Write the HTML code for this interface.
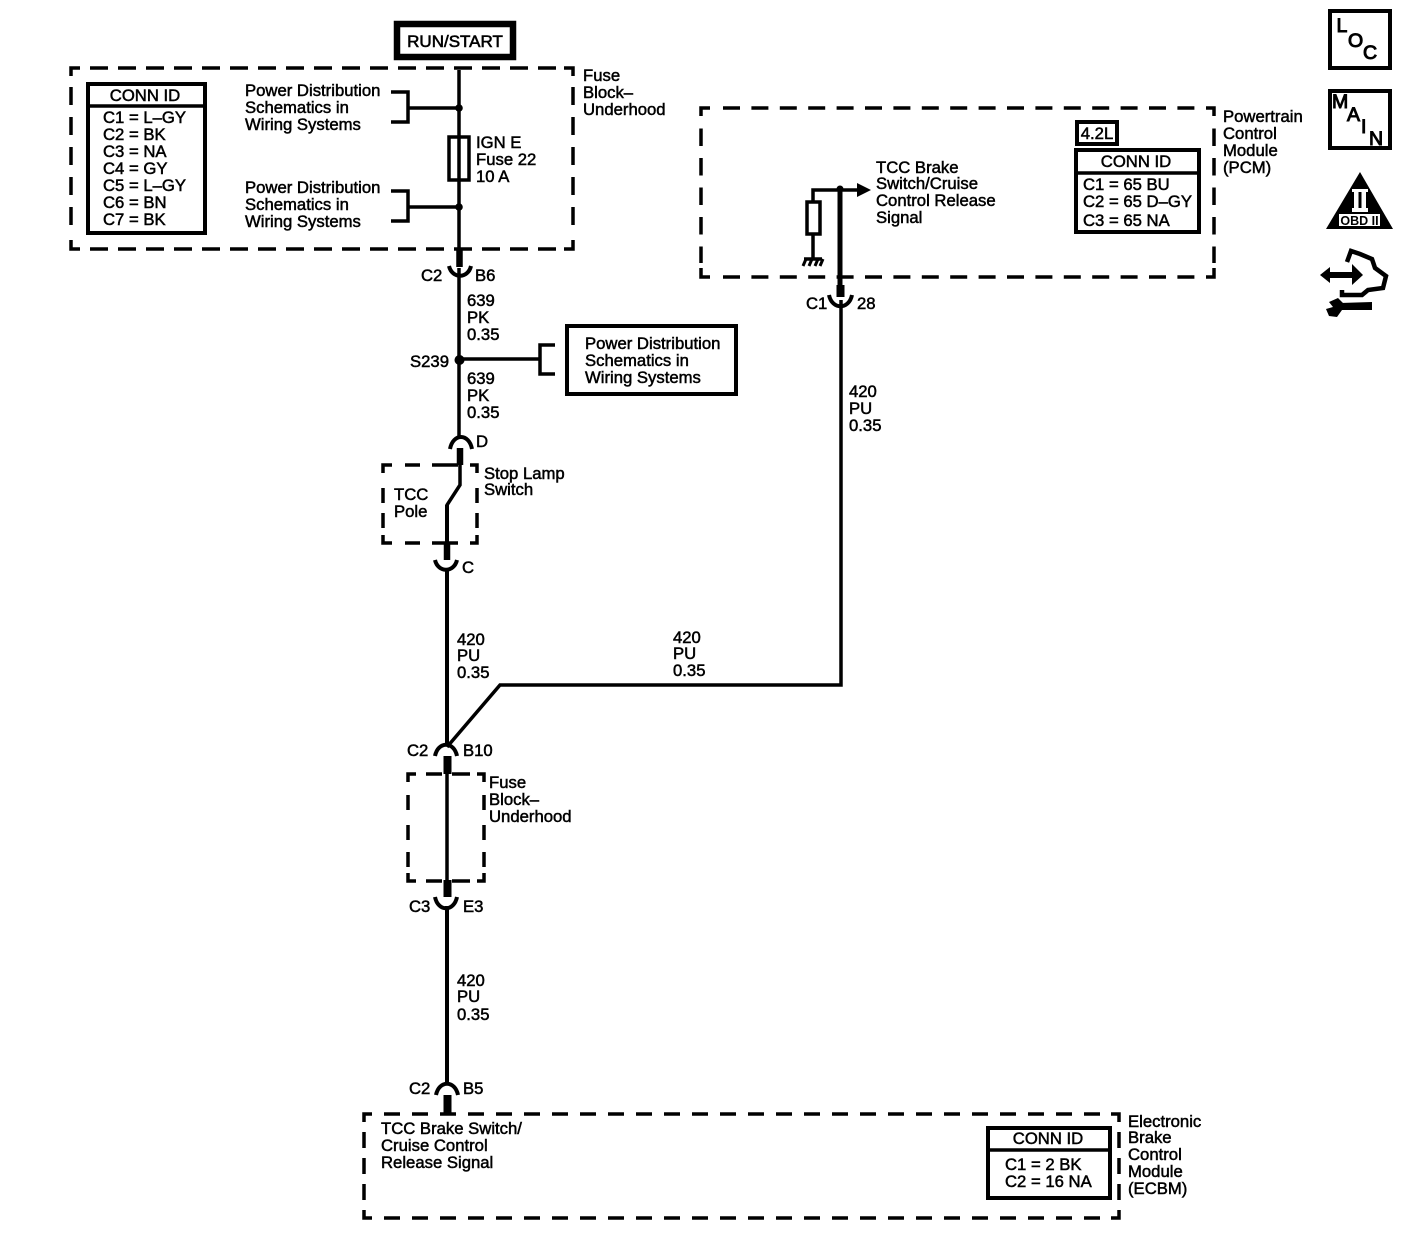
<!DOCTYPE html>
<html><head><meta charset="utf-8"><style>
html,body{margin:0;padding:0;background:#fff}
svg{display:block}
text{font-family:"Liberation Sans",sans-serif;font-size:16.7px;fill:#000;stroke:#000;stroke-width:.5}
.w{fill:none;stroke:#000;stroke-width:3.5}
.b{fill:none;stroke:#000;stroke-width:4}
.c{fill:none;stroke:#000;stroke-width:3.5}
.t{fill:none;stroke:#000;stroke-width:6.5}
.a{fill:none;stroke:#000;stroke-width:4}
.i text,text.i{font-size:19.5px;stroke-width:1}
</style></head><body>
<svg width="1408" height="1240" viewBox="0 0 1408 1240" xmlns="http://www.w3.org/2000/svg">
<!-- dashed boxes: corners + dashed runs -->
<path class="c" d="M80 68H71V76M564 68H573V76M80 249H71V240M564 249H573V240"/>
<path class="c" stroke-dasharray="18 10" d="M90 68H556M90 249H556"/>
<path class="c" stroke-dasharray="18 12" d="M71 87V228M573 87V228"/>

<path class="c" d="M710 108H701V116M1206 108H1214V116M710 277H701V268M1206 277H1214V268"/>
<path class="c" stroke-dasharray="17 11.400" d="M723 108H1196M723 277H1196"/>
<path class="c" stroke-dasharray="17.500 12" d="M701 128.500V263M1214 128.500V263"/>

<path class="c" d="M392 465H383V473M470 465H477V473M392 543H383V535M470 543H477V535"/>
<path class="c" d="M405 465H420M432 465H458M405 543H420M432 543H458"/>
<path class="c" d="M383 488V503M383 513V528M477 488V503M477 513V528"/>

<path class="c" d="M416 774H408V782M477 774H484V782M416 881H408V873M477 881H484V873"/>
<path class="c" d="M426 774H442M452 774H470M426 881H442M452 881H470"/>
<path class="c" d="M408 795V810M408 825V840M408 852V867M484 795V810M484 825V840M484 852V867"/>

<path class="c" d="M372 1114H364V1122M1111 1114H1119V1122M372 1218H364V1210M1111 1218H1119V1210"/>
<path class="c" stroke-dasharray="16 12" d="M384 1114H1102M384 1218H1102"/>
<path class="c" stroke-dasharray="16 10" d="M364 1132V1201M1119 1132V1201"/>

<!-- RUN/START -->
<rect x="397" y="24" width="116" height="33" fill="#fff" stroke="#000" stroke-width="6.500"/>
<text x="455" y="47" text-anchor="middle" style="font-size:17px;stroke-width:.6">RUN/START</text>

<!-- CONN ID boxes -->
<rect class="b" x="88" y="84" width="117" height="149"/>
<path class="w" d="M88 106H205"/>
<text x="145" y="101" text-anchor="middle">CONN ID</text>
<text x="103" y="123">C1 = L–GY</text>
<text x="103" y="140">C2 = BK</text>
<text x="103" y="157">C3 = NA</text>
<text x="103" y="174">C4 = GY</text>
<text x="103" y="191">C5 = L–GY</text>
<text x="103" y="208">C6 = BN</text>
<text x="103" y="225">C7 = BK</text>

<rect class="b" x="1077" y="122" width="40" height="22"/>
<text x="1097" y="139" text-anchor="middle">4.2L</text>
<rect class="b" x="1076" y="150" width="123" height="82"/>
<path class="w" d="M1076 173H1199"/>
<text x="1136" y="167" text-anchor="middle">CONN ID</text>
<text x="1083" y="190">C1 = 65 BU</text>
<text x="1083" y="207">C2 = 65 D–GY</text>
<text x="1083" y="226">C3 = 65 NA</text>

<rect class="b" x="988" y="1128" width="122" height="70"/>
<path class="w" d="M988 1150H1110"/>
<text x="1048" y="1144" text-anchor="middle">CONN ID</text>
<text x="1005" y="1170">C1 = 2 BK</text>
<text x="1005" y="1187">C2 = 16 NA</text>

<!-- top wire, fuse, brackets -->
<path class="w" d="M459 70V250M459 268V358M459 360V436"/>
<rect x="449" y="137" width="20" height="43" fill="none" stroke="#000" stroke-width="3.500"/>
<circle cx="459" cy="108" r="3.800"/><circle cx="459" cy="207" r="3.800"/>
<path class="w" d="M391 92H408V122H391M408 108H459"/>
<path class="w" d="M391 191H408V221H391M408 207H459"/>
<path class="t" d="M459.500 248V267"/>
<path class="a" d="M449 266C452 279 468 279 471 266"/>
<circle cx="459.500" cy="360" r="5"/>
<path class="w" d="M459 359H539M555 345H540V374H555"/>
<rect class="b" x="567" y="326" width="169" height="68"/>

<!-- D connector and switch -->
<path class="a" d="M450 449C453 433 469 433 472 449"/>
<path class="t" d="M460 448V465"/>
<path class="w" d="M460 465V485L447 505V545"/>
<path d="M447 505V545" fill="none" stroke="#000" stroke-width="4"/>
<path class="t" d="M447 542V560"/>
<path class="a" d="M435 560C438 573 454 573 457 560"/>
<path d="M447 568V745" fill="none" stroke="#000" stroke-width="4"/>

<!-- diagonal and PCM wire -->
<path class="w" d="M447 747L500 685H841V300"/>
<path d="M840 190V290" fill="none" stroke="#000" stroke-width="5"/>
<path class="a" d="M435 756C438 741 454 741 457 756"/>
<path d="M447.500 756V774" fill="none" stroke="#000" stroke-width="8"/>
<path d="M447 774V882" fill="none" stroke="#000" stroke-width="3.500"/>
<path d="M447.500 880V897" fill="none" stroke="#000" stroke-width="8"/>
<path class="a" d="M435 897C438 912 454 912 457 897"/>
<path d="M447 906V1085" fill="none" stroke="#000" stroke-width="4"/>
<path class="a" d="M436 1095C439 1080 455 1080 458 1095"/>
<path d="M447.500 1095V1114" fill="none" stroke="#000" stroke-width="8"/>

<!-- PCM internals -->
<path class="w" d="M813 202V190H860"/>
<path d="M857 183L871 190L857 197Z"/>
<circle cx="840" cy="189" r="3.500"/>
<rect class="w" x="807" y="202" width="13" height="32"/>
<path class="w" d="M813 234V258M804 259H822"/>
<path d="M806 259L803 266M812 259L809 266M818 259L815 266M823 259L820 266" stroke="#000" stroke-width="3" fill="none"/>
<path d="M840.500 285V297" fill="none" stroke="#000" stroke-width="8"/>
<path class="a" d="M829 295C832 310 849 310 852 295"/>

<!-- Labels -->
<text x="583" y="81">Fuse</text><text x="583" y="98">Block–</text><text x="583" y="115">Underhood</text>
<text x="245" y="96">Power Distribution</text><text x="245" y="113">Schematics in</text><text x="245" y="130">Wiring Systems</text>
<text x="245" y="193">Power Distribution</text><text x="245" y="210">Schematics in</text><text x="245" y="227">Wiring Systems</text>
<text x="476" y="148">IGN E</text><text x="476" y="165">Fuse 22</text><text x="476" y="182">10 A</text>
<text x="421" y="281">C2</text><text x="475" y="281">B6</text>
<text x="467" y="306">639</text><text x="467" y="323">PK</text><text x="467" y="340">0.35</text>
<text x="410" y="367">S239</text>
<text x="467" y="384">639</text><text x="467" y="401">PK</text><text x="467" y="418">0.35</text>
<text x="585" y="349">Power Distribution</text><text x="585" y="366">Schematics in</text><text x="585" y="383">Wiring Systems</text>
<text x="476" y="447">D</text>
<text x="484" y="479">Stop Lamp</text><text x="484" y="495">Switch</text>
<text x="394" y="500">TCC</text><text x="394" y="517">Pole</text>
<text x="462" y="573">C</text>
<text x="457" y="645">420</text><text x="457" y="661">PU</text><text x="457" y="678">0.35</text>
<text x="673" y="643">420</text><text x="673" y="659">PU</text><text x="673" y="676">0.35</text>
<text x="407" y="756">C2</text><text x="463" y="756">B10</text>
<text x="489" y="788">Fuse</text><text x="489" y="805">Block–</text><text x="489" y="822">Underhood</text>
<text x="409" y="912">C3</text><text x="463" y="912">E3</text>
<text x="457" y="986">420</text><text x="457" y="1002">PU</text><text x="457" y="1020">0.35</text>
<text x="409" y="1094">C2</text><text x="463" y="1094">B5</text>
<text x="381" y="1134">TCC Brake Switch/</text><text x="381" y="1151">Cruise Control</text><text x="381" y="1168">Release Signal</text>
<text x="1128" y="1127">Electronic</text><text x="1128" y="1143">Brake</text><text x="1128" y="1160">Control</text><text x="1128" y="1177">Module</text><text x="1128" y="1194">(ECBM)</text>
<text x="876" y="173">TCC Brake</text><text x="876" y="189">Switch/Cruise</text><text x="876" y="206">Control Release</text><text x="876" y="223">Signal</text>
<text x="806" y="309">C1</text><text x="857" y="309">28</text>
<text x="849" y="397">420</text><text x="849" y="414">PU</text><text x="849" y="431">0.35</text>
<text x="1223" y="122">Powertrain</text><text x="1223" y="139">Control</text><text x="1223" y="156">Module</text><text x="1223" y="173">(PCM)</text>

<!-- Right icons -->
<rect x="1330" y="11" width="60" height="57" fill="none" stroke="#000" stroke-width="4"/>
<text class="i" x="1336.500" y="32">L</text>
<text class="i" x="1348" y="47">O</text>
<text class="i" x="1363" y="59">C</text>
<rect x="1330" y="91" width="60" height="57" fill="none" stroke="#000" stroke-width="4"/>
<text class="i" x="1332" y="108">M</text>
<text class="i" x="1347" y="121">A</text>
<text class="i" x="1361" y="133">I</text>
<text class="i" x="1369" y="145">N</text>
<path d="M1360 172L1393 229H1326Z"/>
<rect x="1339" y="214" width="41" height="12" fill="#fff"/>
<text x="1359.500" y="225" text-anchor="middle" style="font-size:12.500px;font-weight:bold;stroke:none">OBD II</text>
<path d="M1352 189H1368V192H1352ZM1352 208H1368V212H1352ZM1354 192H1358.500V208H1354ZM1361.500 192H1366V208H1361.500Z" fill="#fff"/>
<!-- hand/arrow/wrench -->
<path d="M1320 275L1330 267V272H1352V264L1363 275L1352 285V278H1330V283Z"/>
<path d="M1347 262L1351 251L1360 254L1372 259L1375 268L1386 276L1383 288L1368 290L1362 295H1342V290" fill="none" stroke="#000" stroke-width="4.500"/>
<path d="M1340 303L1372 302V310L1340 310Z"/>
<path d="M1329 302L1338 298L1343 303L1342 310L1337 317L1329 316L1326 309L1333 307Z"/>
</svg>
</body></html>
